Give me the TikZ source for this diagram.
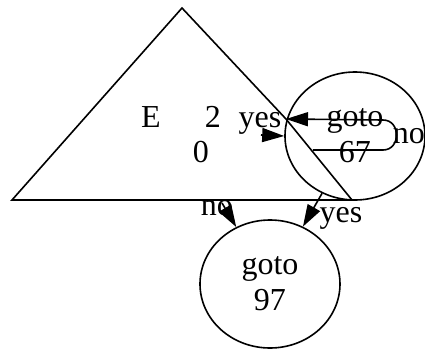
\documentclass[tikz,border=0pt]{standalone}
\usepackage{fontspec}
\setmainfont{Liberation Serif}
\usepackage{tikz}
\usetikzlibrary{shapes.geometric,arrows.meta}
\tikzset{
  gnode/.style={ellipse,draw,line width=0.8pt,minimum width=70pt,minimum height=64pt,inner sep=0pt,align=center},
  glabel/.style={inner sep=0pt,anchor=base},
  garrow/.style={line width=0.8pt,-{Triangle[length=11pt,width=7pt]}},
}
\begin{document}
\begin{tikzpicture}[x=0.5pt,y=-0.5pt,font=\fontsize{16}{18}\selectfont]
  \useasboundingbox (0,0) rectangle (425,349);
  % triangle node
  \coordinate (tritop) at (182,8);
  \coordinate (tribend) at (286,119);
  \coordinate (triright) at (352,200);
  \coordinate (trileft) at (12,200);
  \draw[line width=0.8pt] (tritop) -- (tribend) -- (triright) -- (trileft) -- cycle;
  \node[glabel] (lblE) at (181,127) {E\hspace{22pt}2};
  \node[glabel] (lbl0) at (201,162) {0};
  % goto nodes
  \node[gnode] (g67) at (355,136) {goto\\67};
  \node[gnode] (g97) at (270,284) {goto\\97};
  % edges
  \coordinate (yestail) at (261,135);
  \draw[garrow] (yestail) -- (g67.west);
  \coordinate (loopstart) at (313,150);
  \draw[garrow] (loopstart) -- (383,150) .. controls (401,150) and (401,120) .. (383,120) -- (tribend);
  \coordinate (notail) at (222,203);
  \draw[garrow] (notail) -- (g97);
  \draw[garrow] (g67) -- (g97);
  % edge labels
  \node[glabel] (yesA) at (260,127) {yes};
  \node[glabel] (noA) at (409,143) {no};
  \node[glabel] (noB) at (217,215) {no};
  \node[glabel] (yesB) at (341,222) {yes};
\end{tikzpicture}
\end{document}
